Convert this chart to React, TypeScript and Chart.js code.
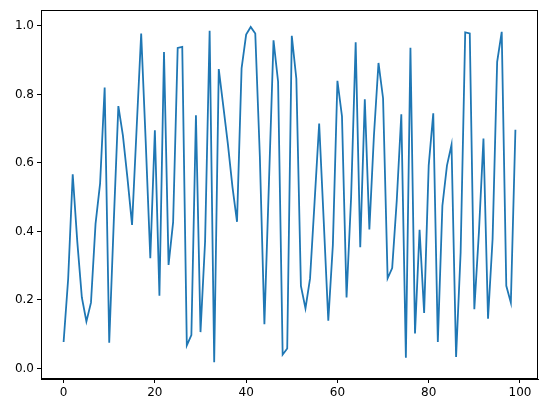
import React, { useEffect, useRef } from 'react';
import { Chart, registerables } from 'chart.js';

Chart.register(...registerables);

const seriesValues: number[] = [
  0.077, 0.261, 0.567, 0.37, 0.207, 0.137, 0.192, 0.422, 0.54, 0.82,
  0.075, 0.43, 0.766, 0.68, 0.555, 0.419, 0.70, 0.978, 0.66, 0.322,
  0.695, 0.212, 0.924, 0.302, 0.427, 0.936, 0.939, 0.067, 0.097, 0.739,
  0.106, 0.37, 0.986, 0.018, 0.874, 0.765, 0.655, 0.53, 0.428, 0.876,
  0.975, 0.997, 0.978, 0.62, 0.129, 0.544, 0.958, 0.837, 0.04, 0.058,
  0.971, 0.846, 0.241, 0.175, 0.262, 0.487, 0.715, 0.43, 0.139, 0.36,
  0.84, 0.736, 0.207, 0.5, 0.952, 0.354, 0.786, 0.406, 0.68, 0.892,
  0.789, 0.263, 0.293, 0.49, 0.742, 0.031, 0.936, 0.102, 0.405, 0.162,
  0.592, 0.745, 0.077, 0.475, 0.592, 0.653, 0.033, 0.339, 0.981, 0.978,
  0.173, 0.397, 0.671, 0.145, 0.378, 0.895, 0.983, 0.241, 0.192, 0.697,
];

const xTickValues: number[] = [0, 20, 40, 60, 80, 100];
const yTickValues: number[] = [0.0, 0.2, 0.4, 0.6, 0.8, 1.0];

const framePlugin = {
  id: 'mplFrame',
  afterDatasetsDraw(chart: any) {
    const { ctx, chartArea: a } = chart;
    ctx.save();
    ctx.strokeStyle = '#000';
    ctx.lineWidth = 1;
    const l = Math.round(a.left) + 0.5;
    const t = Math.round(a.top) + 0.5;
    const r = Math.round(a.right) - 0.5;
    const b = Math.round(a.bottom) - 0.5;
    ctx.strokeRect(l, t, r - l, b - t);
    ctx.restore();
  },
};

export default function App() {
  const canvasRef = useRef<HTMLCanvasElement | null>(null);

  useEffect(() => {
    document.body.style.margin = '0';
    const canvas = canvasRef.current;
    if (!canvas) return;
    const font = { family: '"DejaVu Sans", sans-serif', size: 12 };
    const chart = new Chart(canvas, {
      type: 'line',
      data: {
        datasets: [
          {
            data: seriesValues.map((v, i) => ({ x: i, y: v })),
            borderColor: '#1f77b4',
            borderWidth: 1.8,
            pointRadius: 0,
            tension: 0,
            fill: false,
          },
        ],
      },
      options: {
        animation: false,
        responsive: true,
        maintainAspectRatio: false,
        layout: { padding: { left: 0, right: 9, top: 10, bottom: 0 } },
        plugins: { legend: { display: false }, tooltip: { enabled: false } },
        scales: {
          x: {
            type: 'linear',
            min: -4.95,
            max: 103.95,
            afterFit: (s: any) => {
              s.height = 34;
            },
            afterBuildTicks: (s: any) => {
              s.ticks = xTickValues.map((v) => ({ value: v }));
            },
            grid: {
              display: true,
              drawOnChartArea: false,
              drawTicks: true,
              tickLength: 4,
              tickColor: '#000',
            },
            border: { display: true, color: '#000', width: 1 },
            ticks: {
              color: '#000',
              font,
              padding: 3,
              maxRotation: 0,
              callback: (v: any) => String(v),
            },
          },
          y: {
            type: 'linear',
            min: -0.031,
            max: 1.046,
            afterFit: (s: any) => {
              s.width = 41;
            },
            afterBuildTicks: (s: any) => {
              s.ticks = yTickValues.map((v) => ({ value: v }));
            },
            grid: {
              display: true,
              drawOnChartArea: false,
              drawTicks: true,
              tickLength: 4,
              tickColor: '#000',
            },
            border: { display: true, color: '#000', width: 1 },
            ticks: {
              color: '#000',
              font,
              padding: 3,
              callback: (v: any) => Number(v).toFixed(1),
            },
          },
        },
      },
      plugins: [framePlugin],
    });
    return () => chart.destroy();
  }, []);

  return (
    <div style={{ position: 'absolute', left: 0, top: 0, width: 547, height: 413 }}>
      <canvas ref={canvasRef} />
    </div>
  );
}
